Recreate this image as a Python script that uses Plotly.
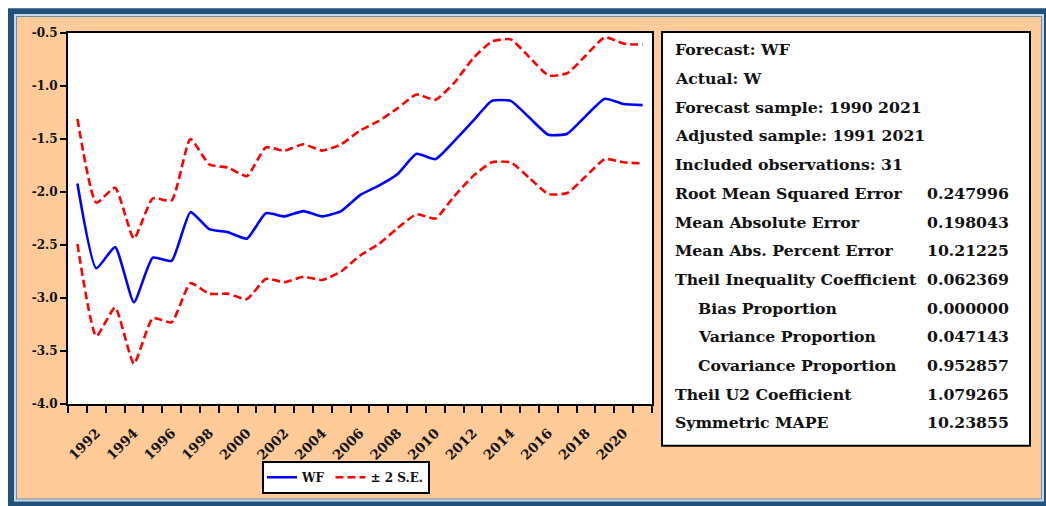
import plotly.graph_objects as go

# Forecast of W (WF) with +/- 2 standard error bands, 1991-2021
years = list(range(1991, 2022))
wf = [-1.92, -2.72, -2.52, -3.04, -2.62, -2.65, -2.19, -2.35, -2.38, -2.44,
      -2.20, -2.23, -2.18, -2.23, -2.18, -2.03, -1.94, -1.83, -1.64, -1.69,
      -1.52, -1.33, -1.14, -1.14, -1.30, -1.46, -1.45, -1.28, -1.12, -1.17, -1.18]
upper_2se = [-1.31, -2.10, -1.96, -2.44, -2.06, -2.08, -1.50, -1.74, -1.77, -1.85,
             -1.58, -1.61, -1.55, -1.61, -1.55, -1.42, -1.33, -1.21, -1.08, -1.13,
             -0.97, -0.74, -0.58, -0.56, -0.73, -0.90, -0.88, -0.71, -0.54, -0.60, -0.61]
lower_2se = [-2.49, -3.36, -3.09, -3.62, -3.19, -3.23, -2.86, -2.96, -2.96, -3.01,
             -2.82, -2.85, -2.80, -2.83, -2.75, -2.60, -2.49, -2.34, -2.21, -2.25,
             -2.04, -1.85, -1.72, -1.72, -1.87, -2.02, -2.01, -1.85, -1.69, -1.72, -1.73]

x_tick_years = list(range(1992, 2021, 2))
y_tick_vals = [-4.0, -3.5, -3.0, -2.5, -2.0, -1.5, -1.0, -0.5]

# Forecast evaluation table
stat_labels = ["Forecast: WF", "Actual: W", "Forecast sample: 1990 2021",
               "Adjusted sample: 1991 2021", "Included observations: 31",
               "Root Mean Squared Error", "Mean Absolute Error",
               "Mean Abs. Percent Error", "Theil Inequality Coefficient",
               "Bias Proportion", "Variance Proportion", "Covariance Proportion",
               "Theil U2 Coefficient", "Symmetric MAPE"]
stat_values = ["", "", "", "", "", "0.247996", "0.198043", "10.21225", "0.062369",
               "0.000000", "0.047143", "0.952857", "1.079265", "10.23855"]
stat_indent = [False] * 9 + [True, True, True] + [False, False]

W, H = 1046, 506
L, R, T, B = 68, 394, 33, 100
PW, PH = W - L - R, H - T - B


def px(xp):
    return (xp - L) / PW


def py(yp):
    return (H - B - yp) / PH


SERIF = "DejaVu Serif"
PEACH = "#FFCB98"

fig = go.Figure()
fig.add_trace(go.Scatter(
    x=years, y=wf, name="WF", mode="lines",
    line=dict(color="#0000FF", width=2.6, shape="spline", smoothing=0.5),
))
fig.add_trace(go.Scatter(
    x=years, y=upper_2se, name="± 2 S.E.", mode="lines", legendgroup="se",
    line=dict(color="#FF0000", width=2.6, dash="8px,4px", shape="spline", smoothing=0.5),
))
fig.add_trace(go.Scatter(
    x=years, y=lower_2se, name="± 2 S.E.", mode="lines", legendgroup="se",
    showlegend=False,
    line=dict(color="#FF0000", width=2.6, dash="8px,4px", shape="spline", smoothing=0.5),
))


def rect(x0, y0, x1, y1, fill, line_color=None, line_width=0):
    return dict(type="rect", xref="paper", yref="paper", layer="below",
                x0=px(x0), x1=px(x1), y0=py(y1), y1=py(y0),
                fillcolor=fill,
                line=dict(color=line_color or fill, width=line_width))


shapes = [
    rect(8, 8, 1060, 520, "#21507A"),
    rect(14, 14, 1044, 504, "#C8D8E8"),
    rect(16, 16, 1042, 502, "#6E8CAA"),
    rect(17, 17, 1041, 501, PEACH),
    rect(L, T, L + PW, T + PH, "#FFFFFF"),
    rect(662, 32, 1030, 448, "#FFFFFF", "#000000", 2),
]

annotations = []
row0, row_step = 50, 28.85
for i, (lab, val, ind) in enumerate(zip(stat_labels, stat_values, stat_indent)):
    yc = row0 + i * row_step
    annotations.append(dict(
        xref="paper", yref="paper", x=px(696 if ind else 673), y=py(yc),
        xanchor="left", yanchor="middle", showarrow=False, text=lab,
        font=dict(family=SERIF, size=15.7, color="#111111", weight="bold"),
    ))
    if val:
        annotations.append(dict(
            xref="paper", yref="paper", x=px(1011), y=py(yc),
            xanchor="right", yanchor="middle", showarrow=False, text=val,
            font=dict(family=SERIF, size=15.7, color="#111111", weight="bold"),
        ))

fig.update_layout(
    width=W, height=H,
    margin=dict(l=L, r=R, t=T, b=B),
    paper_bgcolor="#FFFFFF",
    plot_bgcolor="#FFFFFF",
    shapes=shapes,
    annotations=annotations,
    showlegend=True,
    legend=dict(
        orientation="h", x=px(262), y=py(463), xanchor="left", yanchor="top",
        bgcolor="#FFFFFF", bordercolor="#000000", borderwidth=2,
        font=dict(family=SERIF, size=12, color="#111111", weight="bold"),
        itemwidth=30,
    ),
    xaxis=dict(
        range=[1990.5, 2021.5],
        tickmode="array", tickvals=x_tick_years,
        ticktext=[str(y) for y in x_tick_years],
        ticks="", tickangle=-45, ticklabelstandoff=14,
        tickfont=dict(family=SERIF, size=13.5, color="#111111", weight="bold"),
        showgrid=False, zeroline=False,
        showline=True, linecolor="#000000", linewidth=2, mirror=True,
        minor=dict(tickmode="array",
                   tickvals=[y - 0.5 for y in years] + [years[-1] + 0.5],
                   ticks="outside", ticklen=7, tickwidth=2, tickcolor="#000000",
                   showgrid=False),
    ),
    yaxis=dict(
        range=[-4.0, -0.5],
        tickmode="array", tickvals=y_tick_vals,
        ticktext=[f"{v:.1f}" for v in y_tick_vals],
        ticks="outside", ticklen=6, tickwidth=2, tickcolor="#000000",
        tickfont=dict(family=SERIF, size=12, color="#111111", weight="bold"),
        showgrid=False, zeroline=False,
        showline=True, linecolor="#000000", linewidth=2, mirror=True,
    ),
)

fig.write_html("out.html")
